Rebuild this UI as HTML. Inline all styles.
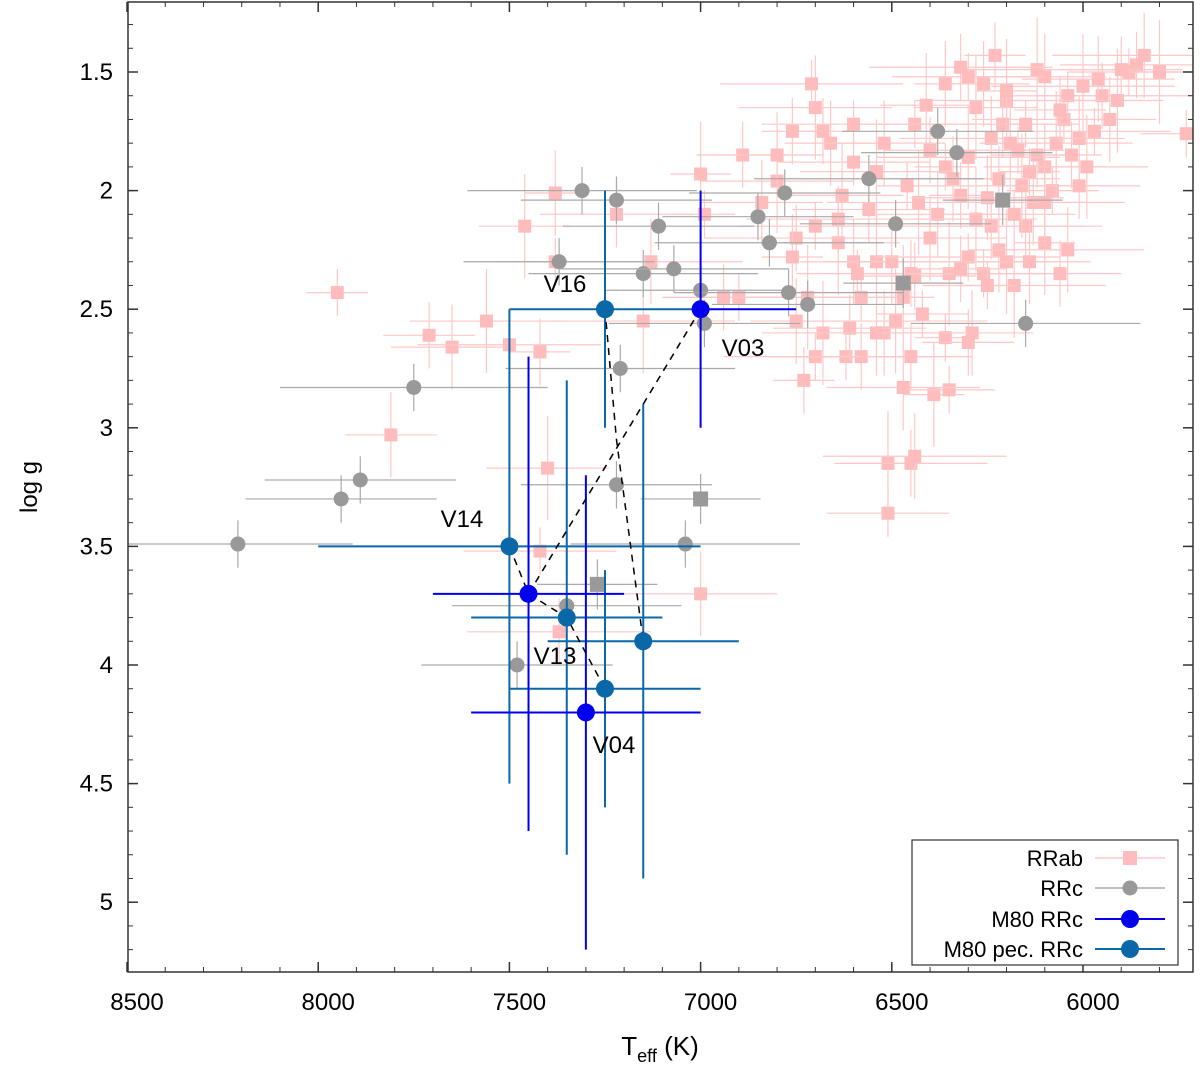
<!DOCTYPE html>
<html><head><meta charset="utf-8"><style>
body{margin:0;background:#fff;}
svg text{font-family:"Liberation Sans",sans-serif;}
</style></head><body>
<svg id="chart" width="1200" height="1075" viewBox="0 0 1200 1075">
<g id="marks"></g>
<g id="axes"></g>
</svg>
<script>
const rrabT=[7950,7710,7650,7560,7500,7420,7810,7400,7420,7370,7380,7460,7380,7220,7130,7000,6900,6940,7000,7150,6990,6890,6840,6800,6700,6730,6750,6680,6620,6580,6520,6510,6510,6450,6440,6390,6350,6450,6470,6490,6360,6300,6290,6700,6710,6680,6660,6630,6600,6640,6600,6540,6580,6560,6500,6470,6420,6440,6400,6430,6460,6450,6380,6350,6300,6320,6340,6280,6260,6240,6220,6200,6180,6150,6130,6100,6080,6060,6040,6160,6140,6120,6100,6070,6050,6030,6010,5990,5970,5950,5930,5910,5880,5860,5840,5800,5730,5900,5960,6000,6040,6060,6100,6120,6200,6230,6260,6280,6300,6320,6360,6410,6440,6210,6240,6190,6170,6220,6250,6300,6360,6400,6520,6540,6600,6760,6800,6640,6700,6750,6760,6720,6590,6610,6540,6200,6150,6010,6100,6180,6250,6320,6140];
const rrabG=[2.43,2.61,2.66,2.55,2.65,2.68,3.03,3.17,3.52,3.86,2.01,2.15,2.3,2.1,2.3,1.93,2.45,2.45,3.7,2.55,2.1,1.85,2.05,1.96,2.7,2.8,2.55,2.6,2.7,2.7,2.6,3.15,3.36,3.15,3.12,2.86,2.84,2.7,2.83,2.55,2.62,2.64,2.6,1.65,1.55,1.75,1.8,2.02,1.88,2.12,2.3,2.3,2.45,2.08,2.3,2.45,2.52,2.36,2.2,2.05,1.98,2.35,2.1,2.35,2.28,2.02,1.95,2.12,2.35,2.15,2.25,2.3,2.1,2.15,2.05,2.22,2.0,2.35,2.25,1.98,1.92,1.85,1.9,1.8,1.7,1.85,1.78,1.9,1.75,1.6,1.7,1.62,1.5,1.47,1.43,1.5,1.76,1.49,1.53,1.56,1.6,1.66,1.52,1.49,1.62,1.43,1.55,1.65,1.52,1.48,1.55,1.64,1.72,1.72,1.78,1.8,1.83,1.95,2.03,1.86,1.9,1.83,1.8,1.92,1.72,1.75,1.85,2.22,2.15,2.2,2.28,2.45,2.35,2.58,2.6,1.58,1.72,1.98,2.05,2.4,2.4,2.33,2.3];
const rrcT=[8210,7940,7890,7750,7310,7370,7220,7110,7150,7070,7210,7220,7350,7480,7040,7000,6990,6850,6820,6780,6770,6720,6560,6490,6380,6330,6150];
const rrcG=[3.49,3.3,3.22,2.83,2.0,2.3,2.04,2.15,2.35,2.33,2.75,3.24,3.75,4.0,3.49,2.42,2.56,2.11,2.22,2.01,2.43,2.48,1.95,2.14,1.75,1.84,2.56];
const rrcXe=[300,250,250,350,300,250,250,250,300,300,300,250,300,250,300,250,250,250,300,250,300,250,300,250,250,250,300];
const sqT=[7000,7270,6470,6210];
const sqG=[3.3,3.66,2.39,2.04];
const m80T=[7000,7450,7300];
const m80G=[2.5,3.7,4.2];
const m80Xlo=[7000,7700,7600], m80Xhi=[6750,7200,7000];
const m80Ylo=[2.0,2.7,3.2], m80Yhi=[3.0,4.7,5.2];
const pecT=[7250,7500,7350,7150,7250];
const pecG=[2.5,3.5,3.8,3.9,4.1];
const pecXlo=[7500,8000,7600,7400,7500], pecXhi=[7000,7000,7100,6900,7000];
const pecYlo=[2.0,2.5,2.8,2.9,3.6], pecYhi=[3.0,4.5,4.8,4.9,4.6];
const xTicks=[8500,8000,7500,7000,6500,6000];
const yTicks=[1.5,2,2.5,3,3.5,4,4.5,5];

const X0=128,X1=1193,Y0=2,Y1=972;
const xs=t=>127+(8500-t)*0.3824;
const ys=g=>72+(g-1.5)*237.2;
const NS='http://www.w3.org/2000/svg';
const marks=document.getElementById('marks'), axes=document.getElementById('axes');
function mk(tag,attrs,parent){const e=document.createElementNS(NS,tag);for(const k in attrs)e.setAttribute(k,attrs[k]);parent.appendChild(e);return e;}
const defs=mk('defs',{},marks);const cp=mk('clipPath',{id:'cp'},defs);mk('rect',{x:X0,y:Y0,width:X1-X0,height:Y1-Y0},cp);
const g=mk('g',{'clip-path':'url(#cp)'},marks);
for(let i=0;i<rrabT.length;i++){
 const x=xs(rrabT[i]),y=ys(rrabG[i]);const xe=(80+(i%5)*40)*0.3824,ye=(0.1+(i%4)*0.04)*237.2;
 const l1=mk('line',{x1:x-xe,x2:x+xe,y1:y,y2:y,stroke:'#ffc8c8','stroke-width':1.2},g);
 
 
 mk('line',{x1:x,x2:x,y1:y-ye,y2:y+ye,stroke:'#ffc8c8','stroke-width':1.2},g);
 const r=mk('rect',{x:x-6.5,y:y-6.5,width:13,height:13,fill:'#ffbcbc'},g);
 
 
}
for(let i=0;i<rrcT.length;i++){
 const x=xs(rrcT[i]),y=ys(rrcG[i]);const xe=rrcXe[i]*0.3824,ye=0.1*237.2;
 mk('line',{x1:x-xe,x2:x+xe,y1:y,y2:y,stroke:'#aaa','stroke-width':1.2},g);
 mk('line',{x1:x,x2:x,y1:y-ye,y2:y+ye,stroke:'#aaa','stroke-width':1.2},g);
 const c=mk('circle',{cx:x,cy:y,r:7.5,fill:'#999'},g);
 
 
}
for(let i=0;i<sqT.length;i++){
 const x=xs(sqT[i]),y=ys(sqG[i]);
 mk('line',{x1:x-60,x2:x+60,y1:y,y2:y,stroke:'#aaa','stroke-width':1.2},g);
 mk('line',{x1:x,x2:x,y1:y-25,y2:y+25,stroke:'#aaa','stroke-width':1.2},g);
 const r=mk('rect',{x:x-7.5,y:y-7.5,width:15,height:15,fill:'#999'},g);
 
 
}
function ebars(T,G,xl,xh,yl,yh,col){
 for(let i=0;i<T.length;i++){
  mk('line',{x1:xs(xl[i]),x2:xs(xh[i]),y1:ys(G[i]),y2:ys(G[i]),stroke:col,'stroke-width':2},g);
  mk('line',{x1:xs(T[i]),x2:xs(T[i]),y1:ys(yl[i]),y2:ys(yh[i]),stroke:col,'stroke-width':2},g);
 }
}
ebars(pecT,pecG,pecXlo,pecXhi,pecYlo,pecYhi,'#0a68a8');
ebars(m80T,m80G,m80Xlo,m80Xhi,m80Ylo,m80Yhi,'#0000ee');
const paths=[[[pecT[0],pecG[0]],[7220,3.05],[pecT[3],pecG[3]]],[[m80T[0],m80G[0]],[m80T[1],m80G[1]]],[[pecT[1],pecG[1]],[m80T[1],m80G[1]],[pecT[2],pecG[2]],[pecT[4],pecG[4]]]];
paths.forEach(p=>{const d=mk('polyline',{points:p.map(q=>xs(q[0])+','+ys(q[1])).join(' '),fill:'none',stroke:'#000','stroke-width':1.5,'stroke-dasharray':'7,6'},g);
 
 });
for(let i=0;i<pecT.length;i++){const c=mk('circle',{cx:xs(pecT[i]),cy:ys(pecG[i]),r:9,fill:'#0a68a8'},g);
 
 }
for(let i=0;i<m80T.length;i++){const c=mk('circle',{cx:xs(m80T[i]),cy:ys(m80G[i]),r:9,fill:'#0000ee'},g);
 
 }
[['V16',565,292],['V03',743,356],['V14',462,527],['V13',555,664],['V04',614,753]].forEach(l=>{
 const t=mk('text',{x:l[1],y:l[2],'font-size':24,'text-anchor':'middle'},marks);t.textContent=l[0];
 
 });
const fr=mk('rect',{x:X0,y:Y0,width:X1-X0,height:Y1-Y0,fill:'none',stroke:'#333','stroke-width':1.5},axes);


xTicks.forEach(t=>{const x=xs(t);mk('line',{x1:x,x2:x,y1:Y1,y2:Y1-10,stroke:'#333','stroke-width':1.5},axes);mk('line',{x1:x,x2:x,y1:Y0,y2:Y0+10,stroke:'#333','stroke-width':1.5},axes);
 const tx=mk('text',{x:x+10,y:1010,'font-size':24,'text-anchor':'middle'},axes);tx.textContent=t;
 
 });
for(let t=8500;t>=5700;t-=100){const x=xs(t);if(x<X0||x>X1)continue;mk('line',{x1:x,x2:x,y1:Y1,y2:Y1-5,stroke:'#333'},axes);mk('line',{x1:x,x2:x,y1:Y0,y2:Y0+5,stroke:'#333'},axes);}
yTicks.forEach(v=>{const y=ys(v);mk('line',{x1:X0,x2:X0+10,y1:y,y2:y,stroke:'#333','stroke-width':1.5},axes);mk('line',{x1:X1,x2:X1-10,y1:y,y2:y,stroke:'#333','stroke-width':1.5},axes);
 const tx=mk('text',{x:113,y:y+8,'font-size':24,'text-anchor':'end'},axes);tx.textContent=v;
 
 });
for(let v=1.3;v<=5.25;v+=0.1){const y=ys(v);mk('line',{x1:X0,x2:X0+5,y1:y,y2:y,stroke:'#333'},axes);mk('line',{x1:X1,x2:X1-5,y1:y,y2:y,stroke:'#333'},axes);}
</script>
<svg style="position:absolute;left:0;top:0" width="1200" height="1075">
<text x="660" y="1055" font-size="26" text-anchor="middle" font-family="Liberation Sans, sans-serif">T<tspan font-size="18" dy="7">eff</tspan><tspan dy="-7"> (K)</tspan></text>
<text transform="translate(37,487) rotate(-90)" font-size="24" text-anchor="middle" font-family="Liberation Sans, sans-serif">log g</text>
<g font-family="Liberation Sans, sans-serif" font-size="22">
<rect x="912" y="840" width="266" height="125" fill="#fff" stroke="#333" stroke-width="1.2"/>
<g><text x="1083" y="866" text-anchor="end">RRab</text><line x1="1095" x2="1165" y1="858" y2="858" stroke="#ffc8c8" stroke-width="1.5"/><rect x="1123" y="851" width="14" height="14" fill="#ffbcbc"/></g>
<g><text x="1083" y="896" text-anchor="end">RRc</text><line x1="1095" x2="1165" y1="888" y2="888" stroke="#aaa" stroke-width="1.5"/><circle cx="1130" cy="888" r="7.5" fill="#999"/></g>
<g><text x="1083" y="927" text-anchor="end">M80 RRc</text><line x1="1095" x2="1165" y1="919" y2="919" stroke="#0000ee" stroke-width="2"/><circle cx="1130" cy="919" r="9" fill="#0000ee"/></g>
<g><text x="1083" y="957" text-anchor="end">M80 pec. RRc</text><line x1="1095" x2="1165" y1="949" y2="949" stroke="#0a68a8" stroke-width="2"/><circle cx="1130" cy="949" r="9" fill="#0a68a8"/></g>
</g>
</svg>
</body></html>
